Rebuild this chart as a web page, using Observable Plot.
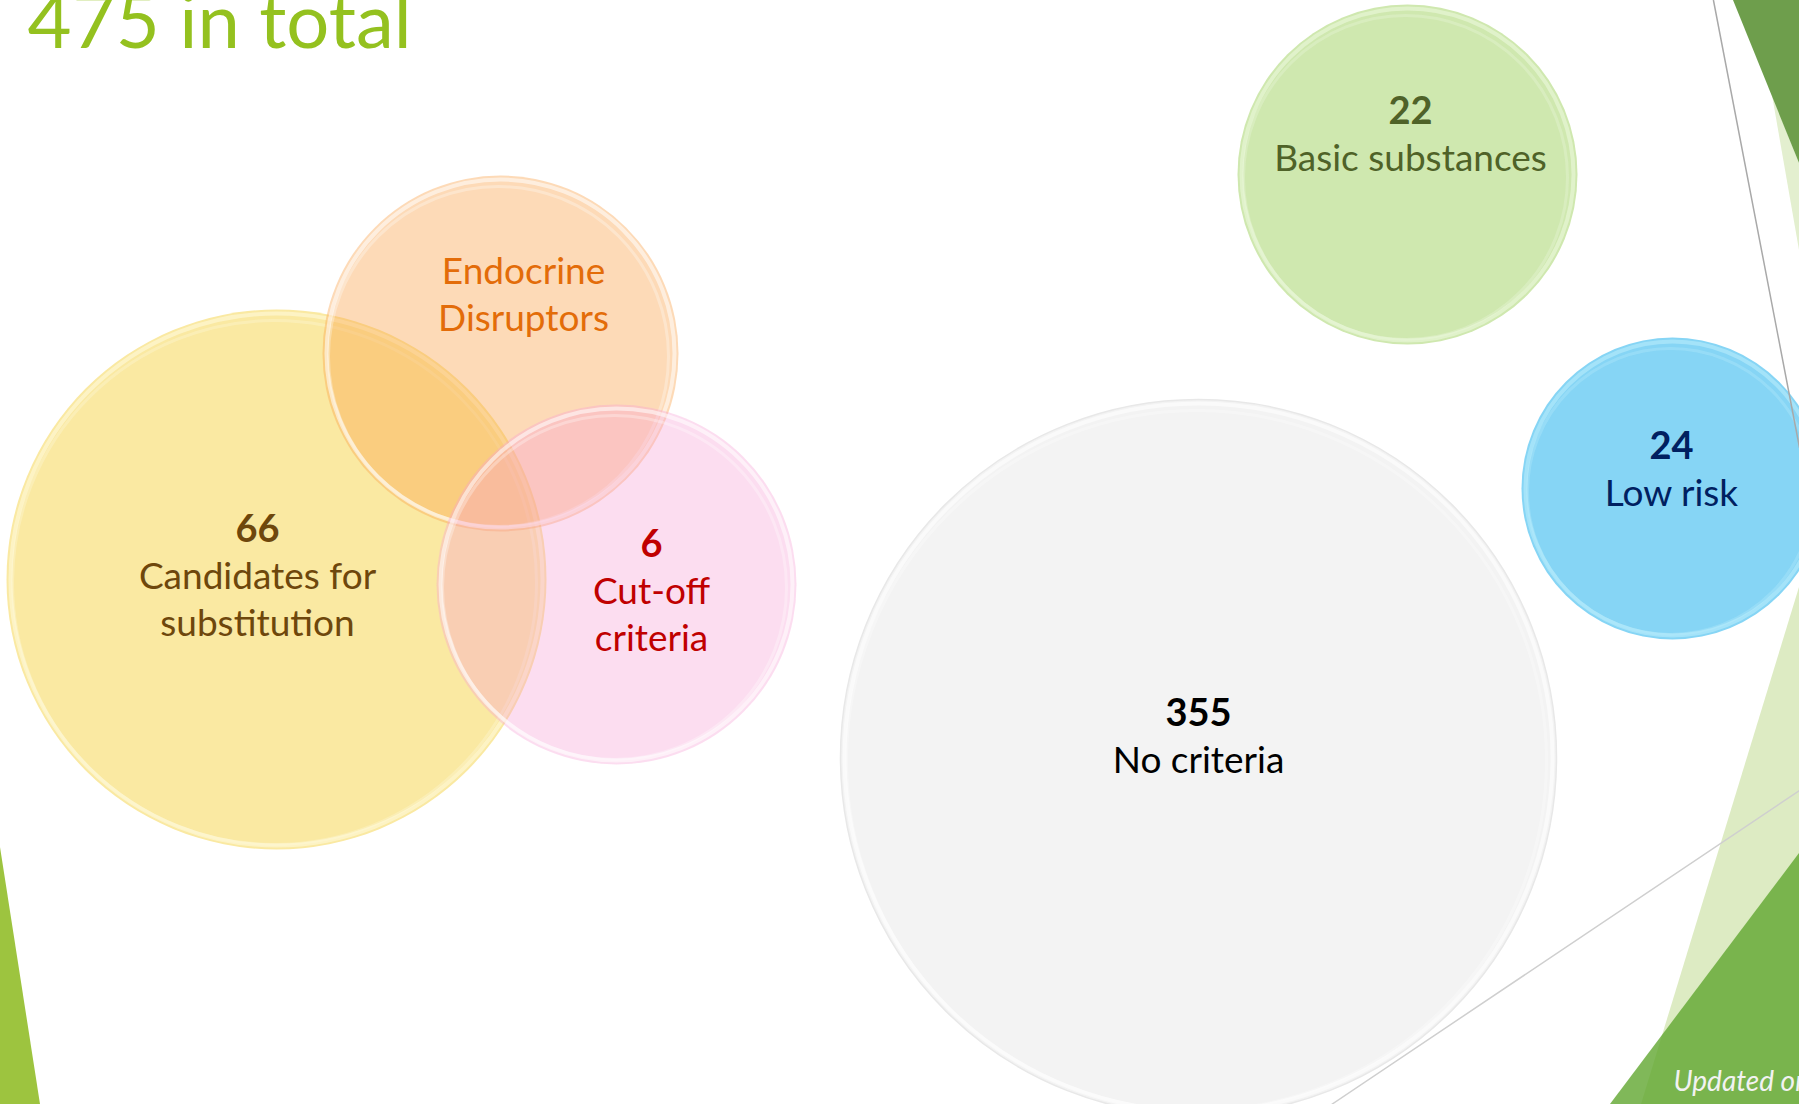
<!DOCTYPE html>
<html><head><meta charset="utf-8">
<script src="https://cdn.jsdelivr.net/npm/d3@7"></script>
<script src="https://cdn.jsdelivr.net/npm/@observablehq/plot@0.6"></script>
<style>
html,body{margin:0;padding:0;background:#fff;overflow:hidden;}
#chart{width:1799px;height:1104px;overflow:hidden;position:relative;}
#chart svg{display:block;overflow:hidden;}
</style></head><body><div id="chart"></div>
<script>
// ---- data ----
const title = "475 in total";
const footnote = "Updated on";
const categories = ["Candidates for\nsubstitution", "Endocrine\nDisruptors", "Cut-off\ncriteria", "No criteria", "Basic substances", "Low risk"];
const counts = ["66", "", "6", "355", "22", "24"];
// bubble layout (slide units)
const bubbleX = [276, 500, 616, 1198, 1407, 1672];
const bubbleY = [579, 353, 584, 757, 174, 488];
const bubbleR = [270, 178, 180, 358, 170, 151];
const labelX = [257, 523, 651, 1198, 1410, 1671];
const labelY = [529, 224, 544, 713, 111, 446];
// slide theme artwork (slide units)
const themeShapes = [
  {name: "leftStripe", pts: [{x: 0, y1: 847, y2: 1104}, {x: 40, y1: 1104, y2: 1104}]},
  {name: "paleTop", pts: [{x: 1772, y1: 95, y2: 95}, {x: 1799, y1: 163, y2: 250}]},
  {name: "darkTop", pts: [{x: 1733, y1: 0, y2: 0}, {x: 1799, y1: 0, y2: 163}]},
  {name: "lightBand", pts: [{x: 1641, y1: 1104, y2: 1104}, {x: 1799, y1: 587, y2: 1104}]},
  {name: "darkBottom", pts: [{x: 1610, y1: 1104, y2: 1104}, {x: 1799, y1: 853, y2: 1104}]}
];
const themeLines = [
  {name: "line1", pts: [{x: 1713, y: 0}, {x: 1799, y: 447}]},
  {name: "line2", pts: [{x: 1799, y: 790}, {x: 1331, y: 1104}]}
];

// ---- styles ----
const look = [
  {fill: "#FAE9A2", alpha: 1, rim: "#FFFBE0", edge: "none", ink: "#6E470C"},
  {fill: "#F9A24A", alpha: 0.4, rim: "#FFFFFF", edge: "none", ink: "#E36C09"},
  {fill: "#F69ED4", alpha: 0.35, rim: "#FFFFFF", edge: "none", ink: "#C00000"},
  {fill: "#F3F3F3", alpha: 1, rim: "#FFFFFF", edge: "#E8E8E8", ink: "#000000"},
  {fill: "#CFE8AF", alpha: 1, rim: "#EEF9E0", edge: "none", ink: "#4F6228"},
  {fill: "#86D5F5", alpha: 1, rim: "#BDEEFC", edge: "none", ink: "#002060"}
];
const shapeStyle = {
  leftStripe: {fill: "#9DC43F", opacity: 1},
  paleTop: {fill: "#E3EFCF", opacity: 1},
  darkTop: {fill: "#6E9E4C", opacity: 1},
  lightBand: {fill: "#DDEBC3", opacity: 1},
  darkBottom: {fill: "#60A630", opacity: 0.8}
};
const lineStyle = {line1: {stroke: "#A9A9A9"}, line2: {stroke: "#CFCFCF"}};

const bubbles = categories.map((name, i) => ({
  name, count: counts[i], x: bubbleX[i], y: bubbleY[i], r: bubbleR[i], lx: labelX[i], ly: labelY[i], i
}));

const marks = [];
for (const s of themeShapes) {
  const st = shapeStyle[s.name];
  marks.push(Plot.areaY(s.pts, {x: "x", y1: "y1", y2: "y2", fill: st.fill, fillOpacity: st.opacity}));
}
for (const b of bubbles) {
  const L = look[b.i];
  marks.push(Plot.dot([b], {x: "x", y: "y", r: "r", fill: L.fill, fillOpacity: L.alpha, stroke: L.edge, strokeWidth: 1.5}));
  marks.push(Plot.dot([b], {x: "x", y: "y", r: d => d.r - 4, fill: "none", stroke: L.rim, strokeWidth: 4, strokeOpacity: 0.55}));
  marks.push(Plot.dot([b], {x: "x", y: "y", r: d => d.r - 8, dx: -2, dy: 3, fill: "none", stroke: L.rim, strokeWidth: 3, strokeOpacity: 0.3}));
}
for (const l of themeLines) {
  marks.push(Plot.line(l.pts, {x: "x", y: "y", stroke: lineStyle[l.name].stroke, strokeWidth: 1.5}));
}
marks.push(Plot.text(bubbles, {
  x: "lx", y: "ly", text: "count", fill: d => look[d.i].ink,
  fontSize: 38, fontWeight: "bold", fontFamily: "Lato"
}));
marks.push(Plot.text(bubbles, {
  x: "lx", y: "ly", text: "name", fill: d => look[d.i].ink,
  fontSize: 37, fontFamily: "Lato", lineAnchor: "top", lineHeight: 1.27, dy: 26
}));
marks.push(Plot.text([title], {
  frameAnchor: "top-left", text: d => d, textAnchor: "start", lineAnchor: "bottom",
  dx: 27, dy: 47, fontSize: 76, fill: "#94C11F", fontFamily: "Lato"
}));
marks.push(Plot.text([footnote], {
  frameAnchor: "bottom-right", text: d => d, textAnchor: "start", lineAnchor: "bottom",
  dx: -126, dy: -14, fontSize: 28, fontStyle: "italic", fill: "#F2F2F2", fontFamily: "Lato"
}));

const chart = Plot.plot({
  width: 1799, height: 1104, margin: 0,
  style: {background: "white", fontFamily: "Lato"},
  x: {domain: [0, 1799], range: [0, 1799], axis: null},
  y: {domain: [0, 1104], range: [0, 1104], axis: null},
  r: {type: "linear", domain: [0, 400], range: [0, 400]},
  color: {type: "identity"},
  marks
});
document.getElementById("chart").appendChild(chart);
</script></body></html>
